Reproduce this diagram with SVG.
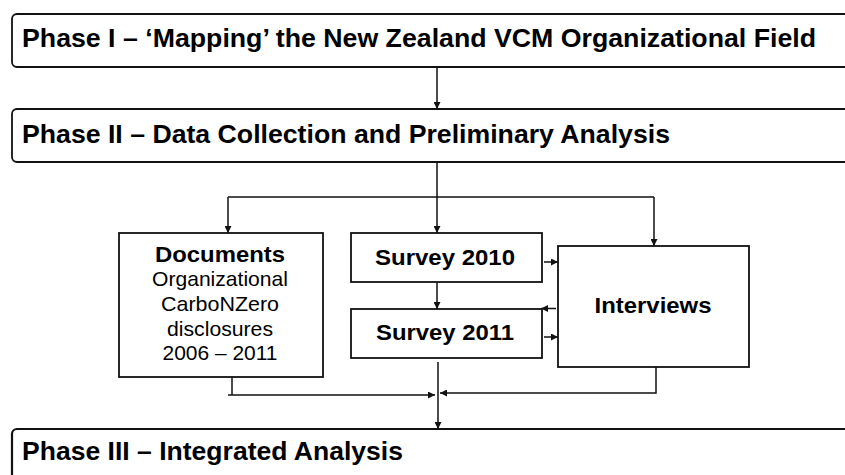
<svg xmlns="http://www.w3.org/2000/svg" width="845" height="475" viewBox="0 0 845 475">
<style>
.box{fill:#fff;stroke:#111;stroke-width:1.8}
.phase{fill:#fff;stroke:#111;stroke-width:1.8}
.ph{font-family:"Liberation Sans",Arial,sans-serif;font-weight:bold;font-size:26px;fill:#000}
.bt{font-family:"Liberation Sans",Arial,sans-serif;font-weight:bold;font-size:22px;fill:#000;text-anchor:middle}
.rt{font-family:"Liberation Sans",Arial,sans-serif;font-size:21px;fill:#000;text-anchor:middle}
.c{fill:none;stroke:#111;stroke-width:1.5}
</style>
<defs>
<marker id="ah" viewBox="0 0 10 10" refX="10" refY="5" markerWidth="7" markerHeight="7" markerUnits="userSpaceOnUse" orient="auto">
<path d="M0,0 L10,5 L0,10 z" fill="#111"/>
</marker>
</defs>
<rect width="845" height="475" fill="#fff"/>
<g id="phase1">
<rect class="phase" x="12" y="14" width="850" height="53" rx="5"/>
<text class="ph" x="22" y="47" textLength="794" lengthAdjust="spacingAndGlyphs">Phase I – ‘Mapping’ the New Zealand VCM Organizational Field</text>
</g>
<g id="phase2">
<rect class="phase" x="12" y="109" width="850" height="53" rx="5"/>
<text class="ph" x="22" y="143" textLength="648" lengthAdjust="spacingAndGlyphs">Phase II – Data Collection and Preliminary Analysis</text>
</g>
<g id="documents">
<rect class="box" x="119" y="233" width="204" height="144"/>
<text class="bt" x="220" y="262" textLength="130" lengthAdjust="spacingAndGlyphs">Documents</text>
<text class="rt" x="220" y="286" textLength="136" lengthAdjust="spacingAndGlyphs">Organizational</text>
<text class="rt" x="220" y="311" textLength="118" lengthAdjust="spacingAndGlyphs">CarboNZero</text>
<text class="rt" x="220" y="336" textLength="106" lengthAdjust="spacingAndGlyphs">disclosures</text>
<text class="rt" x="220" y="360" textLength="115" lengthAdjust="spacingAndGlyphs">2006 – 2011</text>
</g>
<g id="survey2010">
<rect class="box" x="351" y="233" width="191" height="49"/>
<text class="bt" x="445" y="265" textLength="140" lengthAdjust="spacingAndGlyphs">Survey 2010</text>
</g>
<g id="survey2011">
<rect class="box" x="351" y="309" width="191" height="49"/>
<text class="bt" x="445" y="340" textLength="138" lengthAdjust="spacingAndGlyphs">Survey 2011</text>
</g>
<g id="interviews">
<rect class="box" x="558" y="246" width="191" height="121"/>
<text class="bt" x="653" y="313" textLength="117" lengthAdjust="spacingAndGlyphs">Interviews</text>
</g>
<g id="phase3">
<rect class="phase" x="12" y="429" width="850" height="80" rx="5" style="stroke-width:2.2"/>
<text class="ph" x="22" y="460" textLength="381" lengthAdjust="spacingAndGlyphs">Phase III – Integrated Analysis</text>
</g>
<g id="connectors">
<path class="c" d="M437,67 V109" marker-end="url(#ah)"/>
<path class="c" d="M437,162 V197"/>
<path class="c" d="M228,197 H654"/>
<path class="c" d="M228,197 V233" marker-end="url(#ah)"/>
<path class="c" d="M437,197 V233" marker-end="url(#ah)"/>
<path class="c" d="M654,197 V246" marker-end="url(#ah)"/>
<path class="c" d="M437,282 V309" marker-end="url(#ah)"/>
<path class="c" d="M544,262 H558" marker-end="url(#ah)"/>
<path class="c" d="M556,308.5 H541" marker-end="url(#ah)"/>
<path class="c" d="M544,337 H558" marker-end="url(#ah)"/>
<path class="c" d="M232,377 V395"/>
<path class="c" d="M228,395 H435" marker-end="url(#ah)"/>
<path class="c" d="M656,367 V393 H440" marker-end="url(#ah)"/>
<path class="c" d="M438,362 V429" marker-end="url(#ah)"/>
</g>
</svg>
